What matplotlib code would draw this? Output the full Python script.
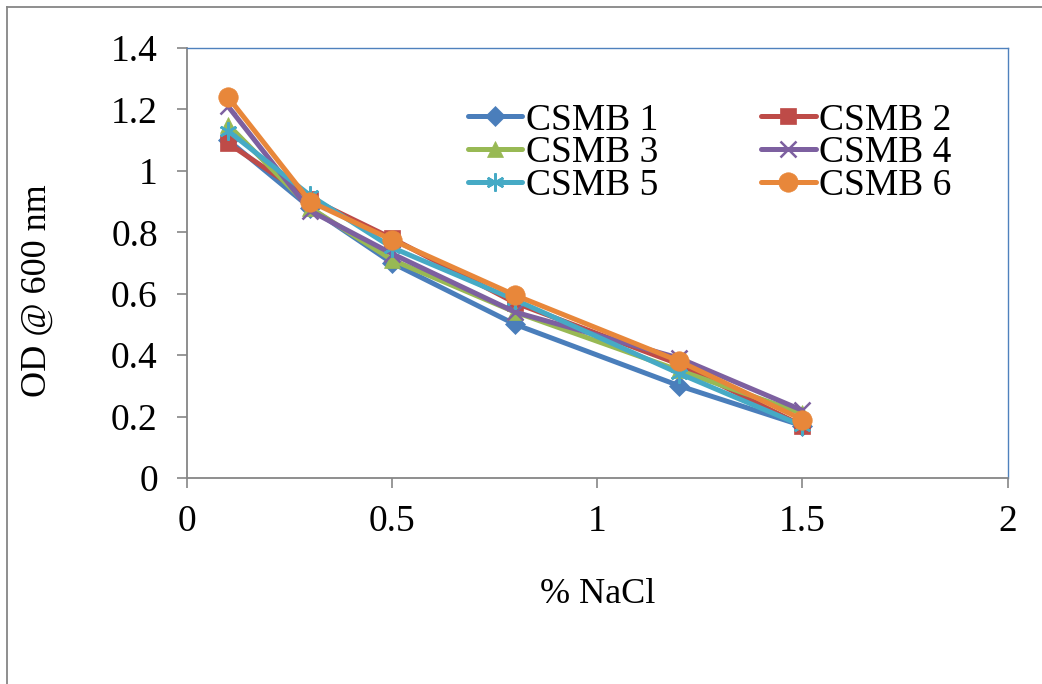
import matplotlib
matplotlib.use("Agg")
import matplotlib.pyplot as plt
from matplotlib.lines import Line2D

nacl = [0.1, 0.3, 0.5, 0.8, 1.2, 1.5]
csmb1 = [1.10, 0.88, 0.70, 0.50, 0.30, 0.17]
csmb2 = [1.09, 0.91, 0.78, 0.57, 0.37, 0.17]
csmb3 = [1.15, 0.88, 0.71, 0.54, 0.35, 0.21]
csmb4 = [1.21, 0.87, 0.73, 0.54, 0.39, 0.22]
csmb5 = [1.13, 0.92, 0.75, 0.58, 0.34, 0.17]
csmb6 = [1.24, 0.90, 0.775, 0.595, 0.38, 0.19]
series_names = ["CSMB 1", "CSMB 2", "CSMB 3", "CSMB 4", "CSMB 5", "CSMB 6"]
xticks = [0, 0.5, 1, 1.5, 2]
yticks = [0, 0.2, 0.4, 0.6, 0.8, 1, 1.2, 1.4]

colors = ["#4A7EBB", "#BE4B48", "#98B954", "#7D60A0", "#46AAC5", "#E8873A"]
markers = ["D", "s", "^", "x", (6, 2, 0), "o"]
msizes = [10, 11, 12, 12, 13, 14]

plt.rcParams["font.family"] = ["Liberation Serif", "DejaVu Serif"]

fig = plt.figure(figsize=(10.42, 6.84), dpi=100)
ax = fig.add_axes([0.1795, 0.3012, 0.7875, 0.6286])

data = [csmb1, csmb2, csmb3, csmb4, csmb5, csmb6]
handles = []
for name, ys, c, m, ms in zip(series_names, data, colors, markers, msizes):
    h, = ax.plot(nacl, ys, color=c, lw=3.6, marker=m, markersize=ms,
                 markeredgewidth=1.8 if m in ("x", (6, 2, 0)) else 0.5,
                 markeredgecolor=c, markerfacecolor=c, label=name,
                 solid_capstyle="round", solid_joinstyle="round")
    handles.append(h)

ax.set_xlim(0, 2)
ax.set_ylim(0, 1.4)
ax.set_xticks(xticks)
ax.set_xticklabels([f"{t:g}" for t in xticks])
ax.set_yticks(yticks)
ax.set_yticklabels([f"{t:g}" for t in yticks])
ax.tick_params(axis="both", labelsize=27, color="#868686", length=7, width=1.2,
               direction="out")
ax.tick_params(axis="x", pad=12)
ax.tick_params(axis="y", pad=14)

for s in ("left", "bottom"):
    ax.spines[s].set_color("#868686")
    ax.spines[s].set_linewidth(1.3)
for s in ("top", "right"):
    ax.spines[s].set_color("#4F81BD")
    ax.spines[s].set_linewidth(1.0)

ax.set_xlabel("% NaCl", fontsize=26, labelpad=28)
ax.set_ylabel("OD @ 600 nm", fontsize=26)
ax.yaxis.set_label_coords(-0.163, 0.435)

# row-major order for a 2-column legend
order = [0, 2, 4, 1, 3, 5]
leg = ax.legend([handles[i] for i in order], [series_names[i] for i in order],
                ncol=2, loc="upper left", bbox_to_anchor=(0.342, 0.872),
                fontsize=27, frameon=False, handlelength=1.45,
                handletextpad=0.1, columnspacing=2.75, labelspacing=-0.05,
                borderaxespad=0, borderpad=0)

# outer chart border
fig.add_artist(Line2D([7 / 1042, 7 / 1042], [0, 1 - 7 / 684],
                      transform=fig.transFigure, color="#868686", lw=1.3))
fig.add_artist(Line2D([7 / 1042, 1], [1 - 7 / 684, 1 - 7 / 684],
                      transform=fig.transFigure, color="#868686", lw=1.3))

fig.savefig("out.png", dpi=100)
